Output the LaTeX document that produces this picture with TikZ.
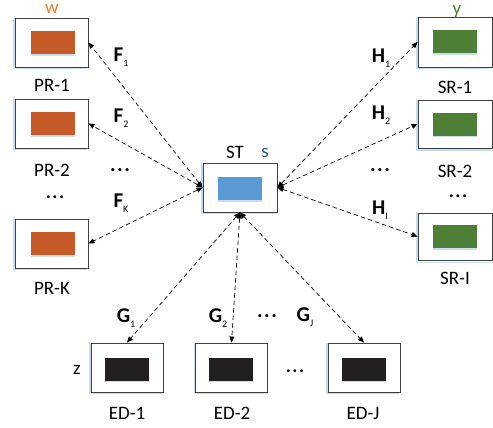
\documentclass[tikz,border=0pt]{standalone}
\usepackage{fontspec}
\setmainfont{Carlito}
\usetikzlibrary{arrows.meta}
\definecolor{prc}{HTML}{C55A28}
\definecolor{src}{HTML}{4E7F36}
\definecolor{stc}{HTML}{5B9BD5}
\definecolor{edc}{HTML}{231F20}
\definecolor{wc}{HTML}{ED7D31}
\definecolor{yc}{HTML}{548235}
\definecolor{sc}{HTML}{2F5597}
\definecolor{shc}{HTML}{C9DDF0}
\newcommand{\lbl}[2]{{\bfseries #1}\raisebox{-0.45ex}{\fontsize{10}{10}\selectfont #2}}
\newcommand{\dotsb}{{\bfseries .\kern1.5pt.\kern1.5pt.}}
\begin{document}
\begin{tikzpicture}[x=1pt,y=-1pt,
  outer/.style={draw=black!75, line width=0.9pt, fill=white, minimum width=73pt, minimum height=49pt, inner sep=0pt},
  inner/.style={minimum width=44pt, minimum height=23pt, inner sep=0pt},
  shad/.style={draw=shc, line width=1.2pt},
  txt/.style={font=\fontsize{19}{20}\selectfont, inner sep=0pt},
  elbl/.style={font=\fontsize{21}{22}\selectfont, inner sep=0pt},
  link/.style={dashed, dash pattern=on 4.5pt off 3pt, line width=0.7pt, {Triangle[length=6pt,width=5pt]}-{Triangle[length=6pt,width=5pt]}}
]
\useasboundingbox (0,0) rectangle (493,428);
% shadows
\foreach \x/\y/\w in {51.5/42.5/73, 51.5/123.5/73, 51.5/243.5/73, 455/42/74, 455/124/74, 455/236.5/74, 240/187.5/74, 127/367.5/72, 231.5/367.5/72, 364/367.5/72}{
  \draw[shad] (\x-\w/2-1,\y-24.5) -- (\x-\w/2-1,\y+26) -- (\x+\w/2-1,\y+26);
}
% PR
\node[outer] (pr1) at (51.5,42.5) {};
\node[outer] (pr2) at (51.5,123.5) {};
\node[outer] (prk) at (51.5,243.5) {};
% SR
\node[outer, minimum width=74pt, minimum height=50pt] (sr1) at (455,42) {};
\node[outer, minimum width=74pt, minimum height=48pt] (sr2) at (455,124) {};
\node[outer, minimum width=74pt, minimum height=47pt] (sri) at (455,236.5) {};
% ST
\node[outer, minimum width=74pt] (st) at (240,187.5) {};
% ED
\node[outer, minimum width=72pt] (ed1) at (127,367.5) {};
\node[outer, minimum width=72pt] (ed2) at (231.5,367.5) {};
\node[outer, minimum width=72pt] (edj) at (364,367.5) {};
% inner shadows and rects
\foreach \x/\y in {53/42.5, 53/123.5, 53/243.5, 455/41.5, 455/124, 455/236.5, 240/188.5, 126.5/369, 231/369, 364/369}{
  \draw[shc, line width=1.2pt] (\x-22,\y+12.5) -- (\x+22,\y+12.5);
}
\node[inner, fill=prc] (pr1i) at (53,42.5) {};
\node[inner, fill=prc] (pr2i) at (53,123.5) {};
\node[inner, fill=prc] (prki) at (53,243.5) {};
\node[inner, fill=src] (sr1i) at (455,41.5) {};
\node[inner, fill=src] (sr2i) at (455,124) {};
\node[inner, fill=src] (srii) at (455,236.5) {};
\node[inner, fill=stc] (sti) at (240,188.5) {};
\node[inner, fill=edc] (ed1i) at (126.5,369) {};
\node[inner, fill=edc] (ed2i) at (231,369) {};
\node[inner, fill=edc] (edji) at (364,369) {};
% box labels
\node[txt] (tpr1) at (52,85) {PR-1};
\node[txt] (tpr2) at (52,170) {PR-2};
\node[txt] (tprd) at (55,197) {\dotsb};
\node[txt] (tprk) at (52,288) {PR-K};
\node[txt] (tsr1) at (455,87) {SR-1};
\node[txt] (tsr2) at (455,171) {SR-2};
\node[txt] (tsrd) at (458,196) {\dotsb};
\node[txt] (tsri) at (455,278) {SR-I};
\node[txt] (ted1) at (127,413) {ED-1};
\node[txt] (ted2) at (232,413) {ED-2};
\node[txt] (tedj) at (363,413) {ED-J};
\node[txt] (tedd) at (295,371) {\dotsb};
\node[txt] (tst) at (235,152) {ST};
\node[txt, text=sc] (ts) at (265,153) {s};
\node[txt, text=wc] (tw) at (52,9) {w};
\node[txt, text=yc] (ty) at (457,11) {y};
\node[txt] (tz) at (77,370) {z};
% connectors
\draw[link] (st.west) -- (pr1.east);
\draw[link] (st.west) -- (pr2.east);
\draw[link] (st.west) -- (prk.east);
\draw[link] (st.east) -- (sr1.west);
\draw[link] (st.east) -- (sr2.west);
\draw[link] (st.east) -- (sri.west);
\draw[link] (st.south) -- (ed1.north);
\draw[link] (st.south) -- (ed2.north);
\draw[link] (st.south) -- (edj.north);
% connector labels
\node[elbl] (f1) at (121,57) {\lbl{F}{1}};
\node[elbl] (f2) at (121,118) {\lbl{F}{2}};
\node[elbl] (fd) at (120,170) {\dotsb};
\node[elbl] (fk) at (121,203) {\lbl{F}{K}};
\node[elbl] (h1) at (381,58) {\lbl{H}{1}};
\node[elbl] (h2) at (381,115) {\lbl{H}{2}};
\node[elbl] (hd) at (380,170) {\dotsb};
\node[elbl] (hi) at (380,210) {\lbl{H}{I}};
\node[elbl] (g1) at (126,318) {\lbl{G}{1}};
\node[elbl] (g2) at (218,318) {\lbl{G}{2}};
\node[elbl] (gd) at (267,316) {\dotsb};
\node[elbl] (gj) at (305,317) {\lbl{G}{J}};
\end{tikzpicture}
\end{document}
